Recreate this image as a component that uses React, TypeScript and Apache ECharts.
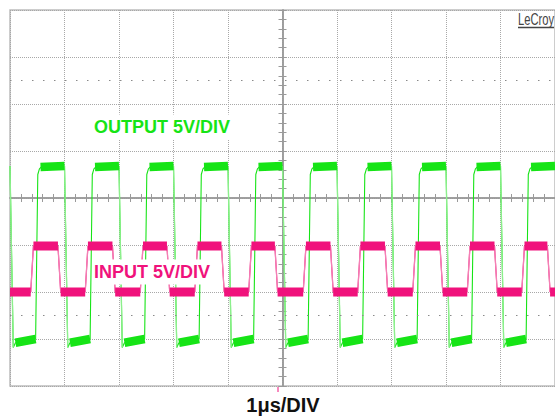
import { useEffect, useRef } from "react";
import * as echarts from "echarts";

// Time axis: microseconds relative to the trigger (screen centre), 1 µs/div
const timeMinUs = -5;
const timeMaxUs = 5;
// Vertical axis: volts, 5 V/div, 8 divisions
const voltMin = -20;
const voltMax = 20;
const voltPerDiv = 5;

// INPUT (pink) edges
const inputRiseUs = [-4.62, -3.62, -2.61, -1.61, -0.62, 0.38, 1.38, 2.39, 3.39, 4.39];
const inputFallUs = [-4.12, -3.12, -2.12, -1.12, -0.14, 0.88, 1.88, 2.89, 3.89, 4.86];
const inputHighV = -5.1;
const inputLowV = -10.0;
const inputEdgeUs = 0.05;

// OUTPUT (green) edges
const outputFallUs = [-5.0, -4.0, -3.0, -2.0, -1.0, 0.0, 1.0, 2.0, 3.0, 4.0, 5.0];
const outputRiseUs = [-4.53, -3.53, -2.53, -1.53, -0.53, 0.47, 1.47, 2.47, 3.47, 4.47];
const outputHighV = 3.4;
const outputLowStartV = -15.4;
const outputLowEndV = -15.0;
const outputUndershootV = -15.9;

const GREEN = "#16e416";
const GREEN_EDGE = "#8cef8c";
const PINK = "#f0127c";
const PINK_EDGE = "#f47fb4";
const GAP: any = "-";

function buildInput() {
  const line: any[] = [[timeMinUs, inputLowV]];
  const band: any[] = [[timeMinUs, inputLowV]];
  const edges: any[] = [];
  inputRiseUs.forEach((r, i) => {
    const f = inputFallUs[i];
    line.push([r, inputLowV], [r + inputEdgeUs, inputHighV], [f, inputHighV], [f + inputEdgeUs, inputLowV]);
    band.push([r, inputLowV], [GAP, GAP]);
    band.push([r + inputEdgeUs, inputHighV], [f, inputHighV], [GAP, GAP]);
    band.push([f + inputEdgeUs, inputLowV]);
    edges.push([r, inputLowV], [r + inputEdgeUs, inputHighV], [GAP, GAP]);
    edges.push([f, inputHighV], [f + inputEdgeUs, inputLowV], [GAP, GAP]);
  });
  line.push([timeMaxUs, inputLowV]);
  band.push([timeMaxUs, inputLowV]);
  return { line, band, edges };
}

function buildOutput() {
  const line: any[] = [[timeMinUs, outputHighV]];
  const band: any[] = [];
  const falls: any[] = [];
  outputRiseUs.forEach((r, i) => {
    const f = outputFallUs[i];
    const nf = outputFallUs[i + 1];
    line.push(
      [f, outputHighV],
      [f + 0.06, outputUndershootV],
      [f + 0.1, outputLowStartV],
      [r, outputLowEndV],
      [r + 0.04, outputHighV - 0.9],
      [r + 0.07, outputHighV - 0.3],
      [r + 0.12, outputHighV],
      [nf, outputHighV]
    );
    band.push([f + 0.1, outputLowStartV], [r, outputLowEndV], [GAP, GAP]);
    band.push([r + 0.09, outputHighV - 0.1], [nf, outputHighV], [GAP, GAP]);
    falls.push([f, outputHighV], [f + 0.06, outputUndershootV], [GAP, GAP]);
  });
  return { line, band, falls };
}

export default function App() {
  const ref = useRef<HTMLDivElement>(null);
  useEffect(() => {
    if (!ref.current) return;
    const chart = echarts.init(ref.current, undefined, { renderer: "svg" });
    const inp = buildInput();
    const out = buildOutput();
    const gridGray = "#a8a8a8";
    const axisGray = "#9a9a9a";
    const tickStyle = { color: axisGray, width: 1 };
    const xCommon = {
      type: "value",
      min: timeMinUs,
      max: timeMaxUs,
      interval: 1,
      axisLabel: { show: false },
      axisLine: { show: true, onZero: true, onZeroAxisIndex: 0, lineStyle: { color: axisGray, width: 1.5 } },
      axisTick: { show: true, length: 4, lineStyle: tickStyle },
      minorTick: { show: true, splitNumber: 5, length: 4, lineStyle: tickStyle },
    };
    const yCommon = {
      type: "value",
      min: voltMin,
      max: voltMax,
      interval: voltPerDiv,
      axisLabel: { show: false },
      axisLine: { show: true, onZero: true, onZeroAxisIndex: 0, lineStyle: { color: axisGray, width: 1.5 } },
      axisTick: { show: true, length: 4, lineStyle: tickStyle },
      minorTick: { show: true, splitNumber: 5, length: 4, lineStyle: tickStyle },
    };
    const labelFont = 'bold 18px "Liberation Sans", Arial, sans-serif';
    const plain = { showSymbol: false, symbol: "none", connectNulls: false, silent: true };
    chart.setOption({
      animation: false,
      backgroundColor: "#ffffff",
      grid: {
        left: 10,
        top: 10,
        width: 550,
        height: 376,
        show: true,
        borderColor: "#bdbdbd",
        borderWidth: 1.5,
        backgroundColor: "#ffffff",
      },
      xAxis: [
        { ...xCommon, position: "bottom", splitLine: { show: true, lineStyle: { color: gridGray, type: "dotted", width: 1 } } },
        { ...xCommon, position: "top", splitLine: { show: false } },
      ],
      yAxis: [
        { ...yCommon, position: "left", splitLine: { show: true, lineStyle: { color: gridGray, type: "dotted", width: 1 } } },
        { ...yCommon, position: "right", splitLine: { show: false } },
      ],
      series: [
        {
          type: "line",
          name: "OUTPUT",
          data: out.line,
          ...plain,
          lineStyle: { color: GREEN, width: 1.1 },
          z: 3,
          markLine: {
            silent: true,
            symbol: "none",
            label: { show: false },
            lineStyle: { color: "#8a8a8a", width: 1, type: [1.5, 9.5] },
            data: [{ yAxis: 2.5 * voltPerDiv }, { yAxis: -2.5 * voltPerDiv }],
          },
        },
        {
          type: "line",
          name: "OUTPUT falling edges",
          data: out.falls,
          ...plain,
          lineStyle: { color: GREEN_EDGE, width: 1.3 },
          z: 3,
        },
        {
          type: "line",
          name: "OUTPUT noise",
          data: out.band,
          ...plain,
          lineStyle: { color: GREEN, width: 8.5, cap: "butt" },
          z: 3,
        },
        {
          type: "line",
          name: "INPUT",
          data: inp.line,
          ...plain,
          lineStyle: { color: PINK, width: 1.1 },
          z: 4,
        },
        {
          type: "line",
          name: "INPUT edges",
          data: inp.edges,
          ...plain,
          lineStyle: { color: PINK_EDGE, width: 1.3 },
          z: 4,
        },
        {
          type: "line",
          name: "INPUT noise",
          data: inp.band,
          ...plain,
          lineStyle: { color: PINK, width: 9, cap: "butt" },
          z: 4,
        },
      ],
      graphic: [
        {
          type: "text",
          x: 92,
          y: 127,
          z: 100,
          style: {
            text: "OUTPUT 5V/DIV",
            font: labelFont,
            fill: GREEN,
            textAlign: "left",
            textVerticalAlign: "middle",
            align: "left",
            verticalAlign: "middle",
            backgroundColor: "#ffffff",
            padding: [4, 2, 3, 2],
          },
        },
        {
          type: "text",
          x: 92,
          y: 272,
          z: 100,
          style: {
            text: "INPUT 5V/DIV",
            font: labelFont,
            fill: PINK,
            textAlign: "left",
            textVerticalAlign: "middle",
            align: "left",
            verticalAlign: "middle",
            backgroundColor: "#ffffff",
            padding: [4, 6, 3, 2],
          },
        },
        {
          type: "text",
          x: 283,
          y: 405,
          z: 100,
          style: {
            text: "1μs/DIV",
            font: 'bold 20px "Liberation Sans", Arial, sans-serif',
            fill: "#111111",
            textAlign: "center",
            textVerticalAlign: "middle",
            align: "center",
            verticalAlign: "middle",
          },
        },
        {
          type: "text",
          x: 518,
          y: 19,
          z: 100,
          scaleX: 0.7,
          style: {
            text: "LeCroy",
            font: '16px "Liberation Sans", Arial, sans-serif',
            fill: "#444444",
            textAlign: "left",
            textVerticalAlign: "middle",
            align: "left",
            verticalAlign: "middle",
          },
        },
        {
          type: "line",
          z: 101,
          shape: { x1: 518, y1: 27.5, x2: 554, y2: 27.5 },
          style: { stroke: "#444444", lineWidth: 1.3 },
        },
        {
          type: "line",
          z: 101,
          shape: { x1: 278, y1: 387, x2: 278, y2: 392 },
          style: { stroke: PINK, lineWidth: 1 },
        },
      ],
    });
    return () => chart.dispose();
  }, []);
  return (
    <div
      ref={ref}
      style={{ position: "absolute", left: 0, top: 0, width: 555, height: 418 }}
    />
  );
}
